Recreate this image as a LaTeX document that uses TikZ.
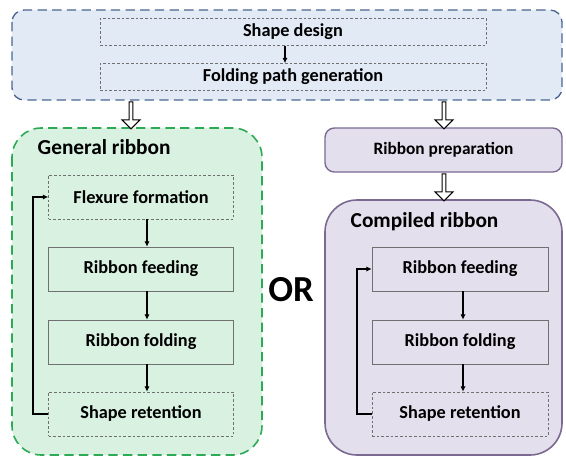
\documentclass[tikz,border=0pt]{standalone}
\usepackage{fontspec}
\setmainfont{Carlito}
\usetikzlibrary{arrows.meta,shapes.arrows}
\definecolor{blueB}{HTML}{4A6690}
\definecolor{blueF}{HTML}{E2EAF5}
\definecolor{greenB}{HTML}{2DAA55}
\definecolor{greenF}{HTML}{D8F1E1}
\definecolor{purpB}{HTML}{7A6A92}
\definecolor{purpF}{HTML}{E4DFEC}
\definecolor{boxB}{HTML}{707070}
\tikzset{
  px/.style={x=0.75pt,y=-0.75pt},
  stepbox/.style={draw=boxB,line width=0.5pt,minimum width=185*0.75pt,minimum height=44*0.75pt,inner sep=0pt,font=\bfseries\fontsize{13.7}{15}\selectfont},
  dstep/.style={stepbox,dash pattern=on 2pt off 1.5pt},
  topbox/.style={draw=boxB,line width=0.5pt,dash pattern=on 2pt off 1.5pt,minimum width=386*0.75pt,minimum height=27*0.75pt,inner sep=0pt,font=\bfseries\fontsize{13.7}{15}\selectfont},
  flow/.style={-{Latex[length=4pt,width=4pt]},line width=1.1pt},
  hollow/.style={single arrow,draw=black,fill=white,line width=0.8pt,shape border rotate=270,minimum height=27*0.75pt,minimum width=18*0.75pt,single arrow head extend=1.5pt,single arrow tip angle=90,inner sep=0pt},
  ttl/.style={font=\bfseries\fontsize{16}{18}\selectfont,anchor=west}
}
\begin{document}
\begin{tikzpicture}[px]
\useasboundingbox (0,0) rectangle (566,460);
% top container
\draw[blueB,fill=blueF,line width=1pt,dash pattern=on 7pt off 4pt,rounded corners=9pt] (12,10) rectangle (562,100);
\node[topbox] (sd) at (293,32) {Shape design};
\node[topbox] (fp) at (293,77) {Folding path generation};
\draw[flow] (sd.south -| 285,0) -- (fp.north -| 285,0);
% general ribbon container
\draw[greenB,fill=greenF,line width=1.2pt,dash pattern=on 7pt off 4pt,rounded corners=22pt] (12,128) rectangle (262,455);
\node[ttl] (gr) at (33,147) {General ribbon};
\node[dstep,fill=greenF] (ff) at (141,197) {Flexure formation};
\node[stepbox,fill=greenF] (rf1) at (141,269) {Ribbon feeding};
\node[stepbox,fill=greenF] (rfo1) at (141,342) {Ribbon folding};
\node[dstep,fill=greenF] (sr1) at (141,414) {Shape retention};
\draw[flow] (ff.south -| 147,0) -- (rf1.north -| 147,0);
\draw[flow] (rf1.south -| 147,0) -- (rfo1.north -| 147,0);
\draw[flow] (rfo1.south -| 147,0) -- (sr1.north -| 147,0);
\draw[flow] (sr1.west) -- (33,414) -- (33,197) -- (ff.west);
% OR
\node[font=\bfseries\fontsize{27.5}{30}\selectfont] (or) at (291,290) {OR};
% ribbon preparation
\node[draw=purpB,fill=purpF,line width=1pt,rounded corners=7pt,minimum width=237*0.75pt,minimum height=44*0.75pt,font=\bfseries\fontsize{13}{15}\selectfont,inner sep=0pt] (rp) at (443.5,150) {Ribbon preparation};
% compiled container
\draw[purpB,fill=purpF,line width=1.2pt,rounded corners=24pt] (325,200) rectangle (562,455);
\node[ttl] (cr) at (346,222) {Compiled ribbon};
\node[stepbox,fill=purpF,minimum width=176*0.75pt] (rf2) at (460,269) {Ribbon feeding};
\node[stepbox,fill=purpF,minimum width=176*0.75pt] (rfo2) at (460,342) {Ribbon folding};
\node[dstep,fill=purpF,minimum width=176*0.75pt] (sr2) at (460,414) {Shape retention};
\draw[flow] (rf2.south -| 463,0) -- (rfo2.north -| 463,0);
\draw[flow] (rfo2.south -| 463,0) -- (sr2.north -| 463,0);
\draw[flow] (sr2.west) -- (357,414) -- (357,269) -- (rf2.west);
% hollow arrows
\node[hollow] (h1) at (131,114.5) {};
\node[hollow] (h2) at (444,114.5) {};
\node[hollow] (h3) at (444,186.5) {};
\end{tikzpicture}
\end{document}
